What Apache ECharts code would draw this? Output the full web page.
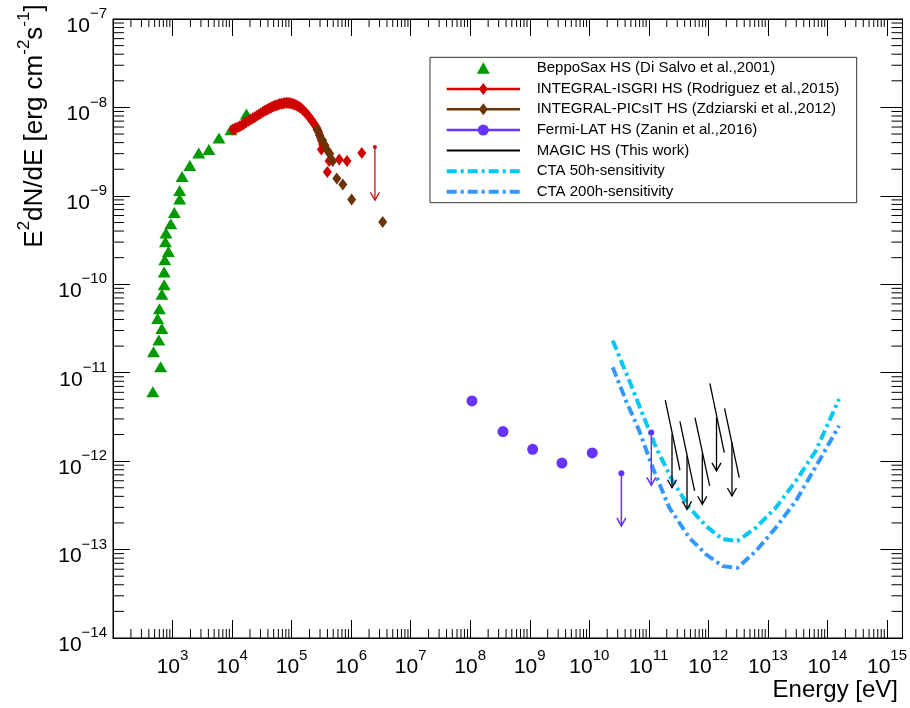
<!DOCTYPE html>
<html><head><meta charset="utf-8">
<script src="https://cdn.jsdelivr.net/npm/echarts@6/dist/echarts.min.js"></script>
<style>html,body{margin:0;padding:0;background:#fff}#c{width:910px;height:708px}</style>
</head><body><div id="c"></div><script>
// ---------- data (energy in eV, E^2 dN/dE in erg cm^-2 s^-1) ----------
const beppoE = [467, 631, 479, 589, 661, 562, 603, 661, 724, 724, 741, 851, 759, 776, 933, 1072, 1318, 1318, 1445, 1950, 2754, 4074, 6026, 9550, 17400];
const beppoF = [6.1e-12, 1.17e-11, 1.73e-11, 2.34e-11, 3.16e-11, 4.1e-11, 5.3e-11, 7.7e-11, 9.9e-11, 1.38e-10, 1.89e-10, 2.35e-10, 3.03e-10, 3.8e-10, 4.84e-10, 6.5e-10, 9.2e-10, 1.15e-9, 1.66e-9, 2.2e-9, 3.05e-9, 3.34e-9, 4.5e-9, 5.6e-9, 8.4e-9];

const isgriE = [1.03e4, 1.09e4, 1.15e4, 1.25e4, 1.35e4, 1.45e4, 1.54e4, 1.64e4, 1.74e4, 1.90e4, 2.06e4, 2.23e4, 2.40e4, 2.60e4, 2.81e4, 3.05e4, 3.31e4, 3.55e4, 3.78e4, 4.03e4, 4.29e4, 4.58e4, 4.88e4, 5.21e4, 5.56e4, 5.93e4, 6.31e4, 6.73e4, 7.18e4, 7.66e4, 8.18e4, 8.72e4, 9.29e4, 9.92e4, 1.06e5, 1.13e5, 1.20e5, 1.28e5, 1.37e5, 1.46e5, 1.55e5, 1.66e5, 1.77e5, 1.89e5, 2.01e5, 2.15e5, 2.29e5, 2.45e5, 2.61e5, 2.73e5, 2.85e5, 2.96e5, 3.08e5, 3.20e5, 3.31e5,
                3.16e5, 3.98e5, 4.27e5, 6.31e5, 8.51e5, 1.51e6];
const isgriF = [5.62e-9, 5.72e-9, 5.82e-9, 5.97e-9, 6.13e-9, 6.30e-9, 6.46e-9, 6.66e-9, 6.86e-9, 7.08e-9, 7.30e-9, 7.53e-9, 7.76e-9, 8.04e-9, 8.32e-9, 8.61e-9, 8.91e-9, 9.15e-9, 9.38e-9, 9.60e-9, 9.81e-9, 1.004e-8, 1.026e-8, 1.043e-8, 1.06e-8, 1.075e-8, 1.09e-8, 1.10e-8, 1.11e-8, 1.12e-8, 1.127e-8, 1.125e-8, 1.12e-8, 1.107e-8, 1.094e-8, 1.077e-8, 1.06e-8, 1.033e-8, 1.006e-8, 9.72e-9, 9.38e-9, 8.95e-9, 8.53e-9, 8.10e-9, 7.66e-9, 7.24e-9, 6.81e-9, 6.39e-9, 5.97e-9, 5.60e-9, 5.24e-9, 4.86e-9, 4.49e-9, 4.16e-9, 3.84e-9,
                3.34e-9, 1.86e-9, 2.48e-9, 2.57e-9, 2.48e-9, 3.05e-9];
const isgriUlE = [2.51e6];
const isgriUlHigh = [3.57e-9];
const isgriUlLow = [8.9e-10];

const picsitE = [2.69e5, 2.95e5, 3.31e5, 3.63e5, 3.98e5, 4.37e5, 4.90e5, 5.75e5, 7.24e5, 1.02e6, 3.39e6];
const picsitF = [5.6e-9, 4.85e-9, 4.26e-9, 3.73e-9, 3.28e-9, 3.0e-9, 2.48e-9, 1.57e-9, 1.34e-9, 9.1e-10, 5.05e-10];

const fermiE = [1.07e8, 3.55e8, 1.12e9, 3.47e9, 1.12e10];
const fermiF = [4.8e-12, 2.16e-12, 1.36e-12, 9.5e-13, 1.24e-12];
const fermiUlE = [3.46e10, 1.10e11];
const fermiUlHigh = [7.3e-13, 2.11e-12];
const fermiUlLow = [1.85e-13, 5.33e-13];

const magicE = [2.45e11, 4.38e11, 7.91e11, 1.37e12, 2.49e12];
const magicUL = [2.02e-12, 1.15e-12, 1.22e-12, 3.11e-12, 1.62e-12];
const magicArrowTo = [5.0e-13, 2.85e-13, 3.25e-13, 7.76e-13, 4.04e-13];
const magicSlopeE1 = [1.89e11, 3.33e11, 5.96e11, 1.06e12, 1.87e12];
const magicSlopeF1 = [4.91e-12, 2.81e-12, 3.11e-12, 7.57e-12, 3.94e-12];
const magicSlopeE2 = [3.33e11, 5.87e11, 1.05e12, 1.85e12, 3.30e12];
const magicSlopeF2 = [7.89e-13, 4.60e-13, 5.25e-13, 1.25e-12, 6.52e-13];

const cta50E = [2.47e10, 4.71e10, 7.87e10, 1.32e11, 2.51e11, 4.79e11, 9.12e11, 1.73e12, 3.09e12, 6.30e12, 1.36e13, 2.95e13, 6.38e13, 1.57e14];
const cta50F = [2.31e-11, 8.11e-12, 3.40e-12, 1.43e-12, 5.97e-13, 2.98e-13, 1.85e-13, 1.31e-13, 1.25e-13, 1.77e-13, 2.98e-13, 5.97e-13, 1.31e-12, 5.04e-12];
const cta200E = [2.47e10, 4.14e10, 6.92e10, 1.16e11, 2.21e11, 4.79e11, 9.12e11, 1.73e12, 3.09e12, 6.30e12, 1.36e13, 2.95e13, 7.26e13, 1.57e14];
const cta200F = [1.15e-11, 4.82e-12, 2.20e-12, 8.45e-13, 2.98e-13, 1.36e-13, 8.83e-14, 6.50e-14, 6.22e-14, 9.62e-14, 1.77e-13, 3.55e-13, 1.01e-12, 2.51e-12];

const legendNames = [
  'BeppoSax HS (Di Salvo et al.,2001)',
  'INTEGRAL-ISGRI HS (Rodriguez et al.,2015)',
  'INTEGRAL-PICsIT HS (Zdziarski et al.,2012)',
  'Fermi-LAT HS (Zanin et al.,2016)',
  'MAGIC HS (This work)',
  'CTA 50h-sensitivity',
  'CTA 200h-sensitivity'
];
const xTitle = 'Energy [eV]';

// ---------- helpers ----------
const FONT = "'Liberation Sans', Arial, Helvetica, sans-serif";
const lg = Math.log10;
const X_MIN = 2, X_MAX = 15.26, Y_MIN = -14, Y_MAX = -7;
const C = {green:'#009a00', red:'#d10000', brown:'#6b3300', violet:'#6633ff', black:'#000000', cyan:'#00c8f5', blue:'#3399ff'};
function pairs(E, F) { return E.map((e, i) => [lg(e), lg(F[i])]); }

const xMinor = [];
for (let n = 2; n <= 15; n++) for (let k = 2; k <= 9; k++) { const v = lg(k) + n; if (v < X_MAX) xMinor.push([v, Y_MIN]); }
const yMinor = [];
for (let n = -14; n < -7; n++) for (let k = 2; k <= 9; k++) yMinor.push([X_MIN, lg(k) + n]);

function ulRender(color, dotR, lw) {
  return function (params, api) {
    const top = api.coord([api.value(0), api.value(1)]);
    const bot = api.coord([api.value(0), api.value(2)]);
    const ch = [
      {type:'line', shape:{x1:top[0], y1:top[1], x2:bot[0], y2:bot[1]}, style:{stroke:color, lineWidth:lw}},
      {type:'polyline', shape:{points:[[bot[0]-4.5, bot[1]-8], [bot[0], bot[1]], [bot[0]+4.5, bot[1]-8]]}, style:{stroke:color, lineWidth:lw, fill:null}}
    ];
    if (dotR > 0) ch.push({type:'circle', shape:{cx:top[0], cy:top[1], r:dotR}, style:{fill:color}});
    return {type:'group', children: ch};
  };
}
function magicRender(params, api) {
  const top = api.coord([api.value(0), api.value(1)]);
  const bot = api.coord([api.value(0), api.value(2)]);
  const a = api.coord([api.value(3), api.value(4)]);
  const b = api.coord([api.value(5), api.value(6)]);
  return {type:'group', children:[
    {type:'line', shape:{x1:a[0], y1:a[1], x2:b[0], y2:b[1]}, style:{stroke:'#000', lineWidth:1.3}},
    {type:'line', shape:{x1:top[0], y1:top[1], x2:bot[0], y2:bot[1]}, style:{stroke:'#000', lineWidth:1.3}},
    {type:'polyline', shape:{points:[[bot[0]-4.5, bot[1]-8], [bot[0], bot[1]], [bot[0]+4.5, bot[1]-8]]}, style:{stroke:'#000', lineWidth:1.3, fill:null}}
  ]};
}
function xMinorRender(params, api) {
  const b = api.coord([api.value(0), Y_MIN]);
  const t = api.coord([api.value(0), Y_MAX]);
  return {type:'group', children:[
    {type:'line', shape:{x1:b[0], y1:b[1], x2:b[0], y2:b[1]-9}, style:{stroke:'#000', lineWidth:1}},
    {type:'line', shape:{x1:t[0], y1:t[1], x2:t[0], y2:t[1]+8}, style:{stroke:'#000', lineWidth:1}}
  ]};
}
function yMinorRender(params, api) {
  const l = api.coord([X_MIN, api.value(1)]);
  const r = api.coord([X_MAX, api.value(1)]);
  return {type:'group', children:[
    {type:'line', shape:{x1:l[0], y1:l[1], x2:l[0]+11, y2:l[1]}, style:{stroke:'#000', lineWidth:1}},
    {type:'line', shape:{x1:r[0], y1:r[1], x2:r[0]-11, y2:r[1]}, style:{stroke:'#000', lineWidth:1}}
  ]};
}

const labelRich = {
  b: {fontSize:21, fontFamily:FONT, color:'#000', lineHeight:30, verticalAlign:'bottom'},
  s: {fontSize:15, fontFamily:FONT, color:'#000', lineHeight:18, verticalAlign:'top'}
};
const isInt = v => Math.abs(v - Math.round(v)) < 1e-6;

// ---------- legend (graphic) ----------
const LX0 = 446.7, LX1 = 520, LXC = 483.3, LTX = 536.7;
const LY = [68.3, 89, 109.3, 130, 150.5, 171.3, 191.7];
function diamond(cx, cy, w, h) { return [[cx, cy-h/2], [cx+w/2, cy], [cx, cy+h/2], [cx-w/2, cy]]; }
const graphics = [
  {type:'rect', shape:{x:430, y:57.3, width:426.7, height:145.4}, style:{fill:'#fff', stroke:'#333', lineWidth:1}, z:10},
  {type:'polygon', shape:{points:[[LXC, LY[0]-6], [LXC+6.5, LY[0]+5.5], [LXC-6.5, LY[0]+5.5]]}, style:{fill:C.green}, z:11},
  {type:'line', shape:{x1:LX0, y1:LY[1], x2:LX1, y2:LY[1]}, style:{stroke:C.red, lineWidth:2.5}, z:11},
  {type:'polygon', shape:{points:diamond(LXC, LY[1], 9, 12)}, style:{fill:C.red}, z:11},
  {type:'line', shape:{x1:LX0, y1:LY[2], x2:LX1, y2:LY[2]}, style:{stroke:C.brown, lineWidth:2.5}, z:11},
  {type:'polygon', shape:{points:diamond(LXC, LY[2], 9, 12)}, style:{fill:C.brown}, z:11},
  {type:'line', shape:{x1:LX0, y1:LY[3], x2:LX1, y2:LY[3]}, style:{stroke:C.violet, lineWidth:2.5}, z:11},
  {type:'circle', shape:{cx:LXC, cy:LY[3], r:5.5}, style:{fill:C.violet}, z:11},
  {type:'line', shape:{x1:LX0, y1:LY[4], x2:LX1, y2:LY[4]}, style:{stroke:C.black, lineWidth:2}, z:11},
  {type:'line', shape:{x1:LX0, y1:LY[5], x2:LX1, y2:LY[5]}, style:{stroke:C.cyan, lineWidth:4, lineDash:[10,4,3,4]}, z:11},
  {type:'line', shape:{x1:LX0, y1:LY[6], x2:LX1, y2:LY[6]}, style:{stroke:C.blue, lineWidth:4, lineDash:[10,4,3,4]}, z:11}
];
legendNames.forEach((n, i) => graphics.push({type:'text', x:LTX, y:LY[i], z:11,
  style:{text:n, fontSize:15, fontFamily:FONT, fill:'#000', align:'left', verticalAlign:'middle'}}));
graphics.push({type:'text', x:898, y:690, style:{text:xTitle, fontSize:24, fontFamily:FONT, fill:'#000', align:'right', verticalAlign:'middle'}});
graphics.push({type:'text', x:32, y:126, rotation:Math.PI/2, style:{
  text:'{n|E}{sup|2}{n|dN/dE [erg cm}{sup|-2}{n|s}{sup|-1}{n|]}', align:'center', verticalAlign:'middle',
  rich:{n:{fontSize:26, fontFamily:FONT, fill:'#000', lineHeight:32, verticalAlign:'bottom'},
        sup:{fontSize:17, fontFamily:FONT, fill:'#000', lineHeight:17, verticalAlign:'top'}}}});

// ---------- chart ----------
const chart = echarts.init(document.getElementById('c'), null, {renderer:'canvas'});
const axCommon = {type:'value', splitLine:{show:false}, axisLine:{show:true, lineStyle:{color:'#000', width:1}}};
chart.setOption({
  animation:false,
  backgroundColor:'#fff',
  grid:{left:113, right:5, top:19, bottom:70, show:true, borderColor:'#000', borderWidth:1, containLabel:false},
  xAxis:[
    Object.assign({}, axCommon, {position:'bottom', min:X_MIN, max:X_MAX, interval:1,
      axisTick:{inside:true, length:18, lineStyle:{color:'#000'}},
      axisLabel:{margin:10, showMinLabel:true, showMaxLabel:true, rich:labelRich,
        formatter:v => (isInt(v) && v >= 3) ? '{b|10}{s|' + Math.round(v) + '}' : ''}}),
    Object.assign({}, axCommon, {position:'top', min:X_MIN, max:X_MAX, interval:1,
      axisTick:{inside:true, length:17, lineStyle:{color:'#000'}}, axisLabel:{show:false}})
  ],
  yAxis:[
    Object.assign({}, axCommon, {position:'left', min:Y_MIN, max:Y_MAX, interval:1,
      axisTick:{inside:true, length:17, lineStyle:{color:'#000'}},
      axisLabel:{margin:6, padding:[5,0,0,0], rich:labelRich,
        formatter:v => isInt(v) ? '{b|10}{s|\u2212' + Math.abs(Math.round(v)) + '}' : ''}}),
    Object.assign({}, axCommon, {position:'right', min:Y_MIN, max:Y_MAX, interval:1,
      axisTick:{inside:true, length:22, lineStyle:{color:'#000'}}, axisLabel:{show:false}})
  ],
  graphic: graphics,
  series:[
    {type:'custom', name:'xminor', renderItem:xMinorRender, data:xMinor, silent:true, z:1},
    {type:'custom', name:'yminor', renderItem:yMinorRender, data:yMinor, silent:true, z:1},
    {type:'scatter', name:legendNames[0], data:pairs(beppoE, beppoF), symbol:'triangle', symbolSize:[13,11],
      itemStyle:{color:C.green, opacity:1}, z:3},
    {type:'scatter', name:legendNames[1], data:pairs(isgriE, isgriF), symbol:'diamond', symbolSize:[9,12],
      itemStyle:{color:C.red, opacity:1}, z:4},
    {type:'custom', name:legendNames[1] + ' UL', renderItem:ulRender(C.red, 2, 1.2),
      data:isgriUlE.map((e, i) => [lg(e), lg(isgriUlHigh[i]), lg(isgriUlLow[i])]), z:4},
    {type:'scatter', name:legendNames[2], data:pairs(picsitE, picsitF), symbol:'diamond', symbolSize:[9,12],
      itemStyle:{color:C.brown, opacity:1}, z:5},
    {type:'scatter', name:legendNames[3], data:pairs(fermiE, fermiF), symbol:'circle', symbolSize:11,
      itemStyle:{color:C.violet, opacity:1}, z:5},
    {type:'custom', name:legendNames[3] + ' UL', renderItem:ulRender(C.violet, 3, 1.5),
      data:fermiUlE.map((e, i) => [lg(e), lg(fermiUlHigh[i]), lg(fermiUlLow[i])]), z:6},
    {type:'line', name:legendNames[5], data:pairs(cta50E, cta50F), showSymbol:false, symbol:'none',
      lineStyle:{color:C.cyan, width:4, type:[10,4,3,4], cap:'butt'}, z:5},
    {type:'line', name:legendNames[6], data:pairs(cta200E, cta200F), showSymbol:false, symbol:'none',
      lineStyle:{color:C.blue, width:4, type:[10,4,3,4], cap:'butt'}, z:5},
    {type:'custom', name:legendNames[4], renderItem:magicRender,
      data:magicE.map((e, i) => [lg(e), lg(magicUL[i]), lg(magicArrowTo[i]), lg(magicSlopeE1[i]), lg(magicSlopeF1[i]), lg(magicSlopeE2[i]), lg(magicSlopeF2[i])]), z:7}
  ]
});
</script></body></html>
